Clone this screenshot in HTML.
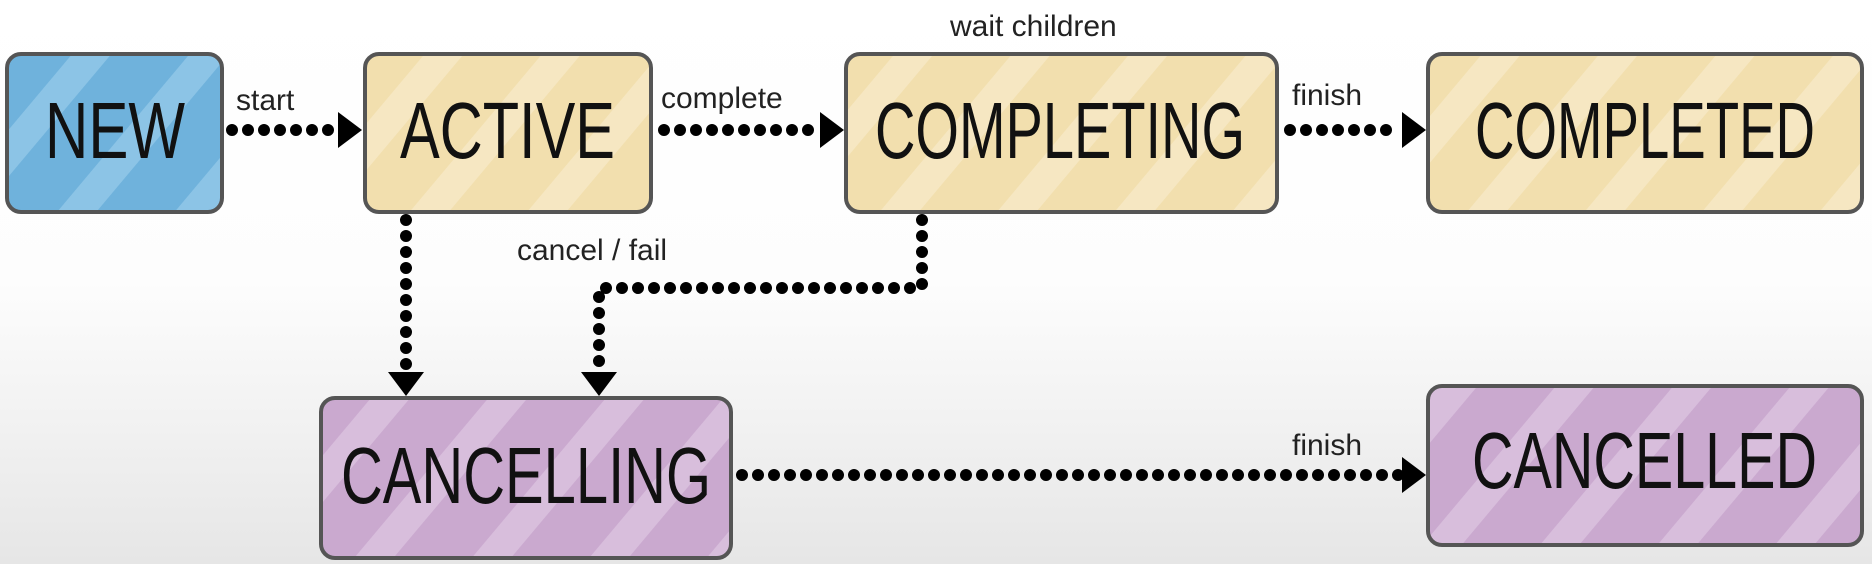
<!DOCTYPE html>
<html><head><meta charset="utf-8"><style>
html,body{margin:0;padding:0;width:1872px;height:564px;overflow:hidden}
svg{display:block}
.lbl{font-family:"Liberation Sans Narrow","Liberation Sans",sans-serif;font-size:80px;fill:#111}
.sm{font-family:"Liberation Sans Narrow","Liberation Sans",sans-serif;font-size:30px;fill:#222}
.dot{stroke:#000;stroke-width:12;stroke-linecap:round;stroke-dasharray:0 16;fill:none}
</style></head><body>
<svg width="1872" height="564" viewBox="0 0 1872 564">
<defs>
<linearGradient id="bg" x1="0" y1="0" x2="0" y2="1">
<stop offset="0" stop-color="#ffffff"/><stop offset="0.5" stop-color="#fdfdfd"/><stop offset="1" stop-color="#e6e6e6"/></linearGradient>
<pattern id="sb" width="90" height="90" patternUnits="userSpaceOnUse" patternTransform="rotate(40)">
<rect width="90" height="90" fill="#6fb2dc"/><rect width="30" height="90" fill="#8cc4e6"/></pattern>
<pattern id="sy" width="90" height="90" patternUnits="userSpaceOnUse" patternTransform="rotate(40)">
<rect width="90" height="90" fill="#f2dfae"/><rect width="30" height="90" fill="#f6e7c2"/></pattern>
<pattern id="sp" width="90" height="90" patternUnits="userSpaceOnUse" patternTransform="rotate(40)">
<rect width="90" height="90" fill="#caa9cf"/><rect width="30" height="90" fill="#d8bedc"/></pattern>
</defs>
<rect width="1872" height="564" fill="url(#bg)"/>
<g stroke="#555" stroke-width="4">
<rect x="7" y="54" width="215" height="158" rx="14" fill="url(#sb)"/>
<rect x="365" y="54" width="286" height="158" rx="14" fill="url(#sy)"/>
<rect x="846" y="54" width="431" height="158" rx="14" fill="url(#sy)"/>
<rect x="1428" y="54" width="434" height="158" rx="14" fill="url(#sy)"/>
<rect x="321" y="398" width="410" height="160" rx="14" fill="url(#sp)"/>
<rect x="1428" y="386" width="434" height="159" rx="14" fill="url(#sp)"/>
</g>
<g class="lbl">
<text x="45" y="158" textLength="140" lengthAdjust="spacingAndGlyphs">NEW</text>
<text x="400" y="158" textLength="215" lengthAdjust="spacingAndGlyphs">ACTIVE</text>
<text x="875" y="158" textLength="370" lengthAdjust="spacingAndGlyphs">COMPLETING</text>
<text x="1475" y="158" textLength="340" lengthAdjust="spacingAndGlyphs">COMPLETED</text>
<text x="341" y="503" textLength="370" lengthAdjust="spacingAndGlyphs">CANCELLING</text>
<text x="1472" y="488" textLength="345" lengthAdjust="spacingAndGlyphs">CANCELLED</text>
</g>
<g class="dot">
<path d="M232 130 H340"/>
<path d="M664 130 H815"/>
<path d="M1290 130 H1400"/>
<path d="M406 220 V372"/>
<path d="M922 220 V288 H599 V372"/>
<path d="M742 475 H1400"/>
</g>
<g fill="#000">
<path d="M338 112 L362 130 L338 148 Z"/>
<path d="M820 112 L844 130 L820 148 Z"/>
<path d="M1402 112 L1426 130 L1402 148 Z"/>
<path d="M1402 457 L1426 475 L1402 493 Z"/>
<path d="M388 372 L424 372 L406 396 Z"/>
<path d="M581 372 L617 372 L599 396 Z"/>
</g>
<g class="sm">
<text x="236" y="110">start</text>
<text x="661" y="108">complete</text>
<text x="1292" y="105">finish</text>
<text x="950" y="36">wait children</text>
<text x="517" y="260">cancel / fail</text>
<text x="1292" y="455">finish</text>
</g>
</svg>
</body></html>
